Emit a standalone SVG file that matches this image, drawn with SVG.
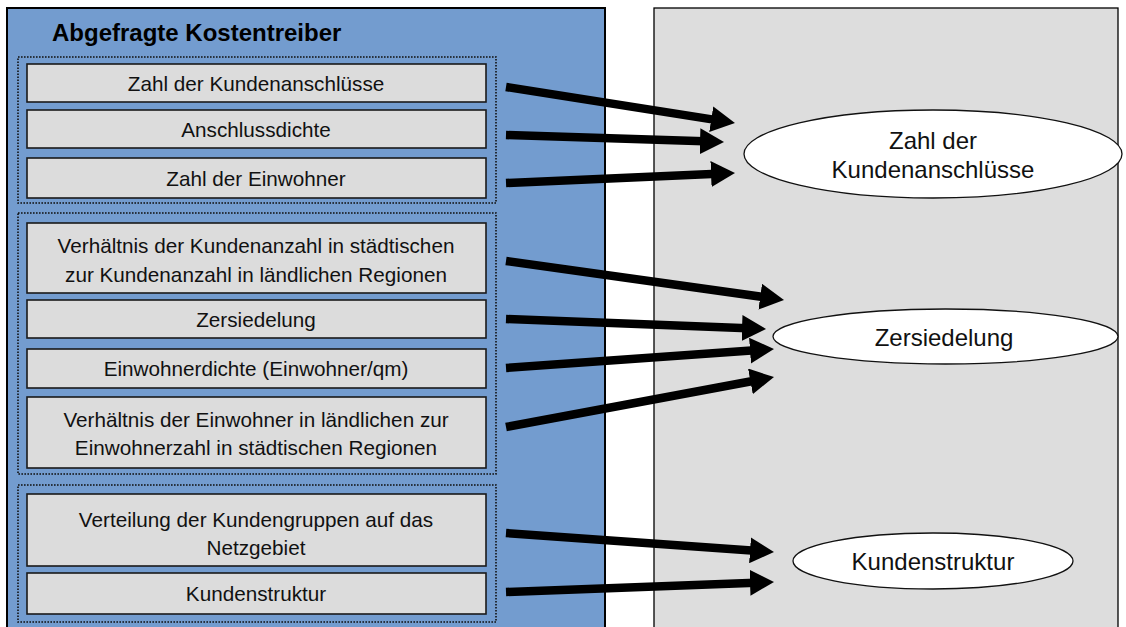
<svg xmlns="http://www.w3.org/2000/svg" width="1126" height="627" viewBox="0 0 1126 627">
<style>
.t{font-family:"Liberation Sans",Arial,sans-serif;font-size:20.7px;fill:#111;text-anchor:middle}
.e{font-family:"Liberation Sans",Arial,sans-serif;font-size:24px;fill:#111;text-anchor:middle}
.box{fill:#dcdcdc;stroke:#1a1a1a;stroke-width:1.6}
.grp{fill:none;stroke:#111;stroke-width:1.6;stroke-dasharray:1.6 1.4}
.ell{fill:#fff;stroke:#111;stroke-width:1.3}
.arr{stroke:#000;stroke-width:8.5;fill:none;marker-end:url(#ah)}
</style>
<defs>
<marker id="ah" markerUnits="userSpaceOnUse" viewBox="0 0 24 26" markerWidth="24" markerHeight="26" refX="12" refY="13" orient="auto">
<path d="M0,0 L24,13 L0,26 Z" fill="#000"/>
</marker>
</defs>
<rect width="1126" height="627" fill="#fff"/>
<g id="panel-left">
<rect x="7" y="8" width="598" height="640" fill="#739ccf" stroke="#000" stroke-width="2"/>
<text x="52" y="41" font-family="Liberation Sans, Arial, sans-serif" font-size="24" font-weight="bold" fill="#000">Abgefragte Kostentreiber</text>
</g>
<g id="panel-right">
<rect x="654" y="8" width="464" height="640" fill="#dddddd" stroke="#000" stroke-width="1.3"/>
</g>
<g id="group1"><rect class="grp" x="18" y="57" width="478" height="146"/></g>
<g id="group2"><rect class="grp" x="18" y="213" width="478" height="261"/></g>
<g id="group3"><rect class="grp" x="18" y="485" width="478" height="137"/></g>
<g id="n1"><rect class="box" x="27" y="64" width="459" height="38"/><text class="t" x="256" y="91">Zahl der Kundenanschlüsse</text></g>
<g id="n2"><rect class="box" x="27" y="110" width="459" height="38"/><text class="t" x="256" y="137">Anschlussdichte</text></g>
<g id="n3"><rect class="box" x="27" y="158" width="459" height="40"/><text class="t" x="256" y="185.5">Zahl der Einwohner</text></g>
<g id="n4"><rect class="box" x="27" y="223" width="459" height="70"/><text class="t" x="256" y="253">Verhältnis der Kundenanzahl in städtischen</text><text class="t" x="256" y="282">zur Kundenanzahl in ländlichen Regionen</text></g>
<g id="n5"><rect class="box" x="27" y="300" width="459" height="38"/><text class="t" x="256" y="327">Zersiedelung</text></g>
<g id="n6"><rect class="box" x="27" y="349" width="459" height="39"/><text class="t" x="256" y="376">Einwohnerdichte (Einwohner/qm)</text></g>
<g id="n7"><rect class="box" x="27" y="397" width="459" height="71"/><text class="t" x="256" y="427">Verhältnis der Einwohner in ländlichen zur</text><text class="t" x="256" y="455">Einwohnerzahl in städtischen Regionen</text></g>
<g id="n8"><rect class="box" x="27" y="494" width="459" height="72"/><text class="t" x="256" y="527">Verteilung der Kundengruppen auf das</text><text class="t" x="256" y="555">Netzgebiet</text></g>
<g id="n9"><rect class="box" x="27" y="573" width="459" height="41"/><text class="t" x="256" y="601">Kundenstruktur</text></g>
<g id="connectors">
<line class="arr" x1="506" y1="87" x2="723.1" y2="121.1"/>
<line class="arr" x1="506" y1="135" x2="712" y2="141.6"/>
<line class="arr" x1="506" y1="183" x2="723" y2="173.5"/>
<line class="arr" x1="506" y1="261" x2="772.1" y2="298.3"/>
<line class="arr" x1="506" y1="319" x2="754" y2="328.5"/>
<line class="arr" x1="506" y1="368" x2="762" y2="349.8"/>
<line class="arr" x1="506" y1="427" x2="762.2" y2="379.2"/>
<line class="arr" x1="506" y1="533" x2="762" y2="551.2"/>
<line class="arr" x1="506" y1="592" x2="762" y2="582.4"/>
</g>
<g id="e1"><ellipse class="ell" cx="933" cy="154" rx="189" ry="44"/><text class="e" x="933" y="149">Zahl der</text><text class="e" x="933" y="178">Kundenanschlüsse</text></g>
<g id="e2"><ellipse class="ell" cx="945.5" cy="336.5" rx="172.5" ry="27.5"/><text class="e" x="944" y="346">Zersiedelung</text></g>
<g id="e3"><ellipse class="ell" cx="933" cy="561" rx="140" ry="28"/><text class="e" x="933" y="570">Kundenstruktur</text></g>
</svg>
